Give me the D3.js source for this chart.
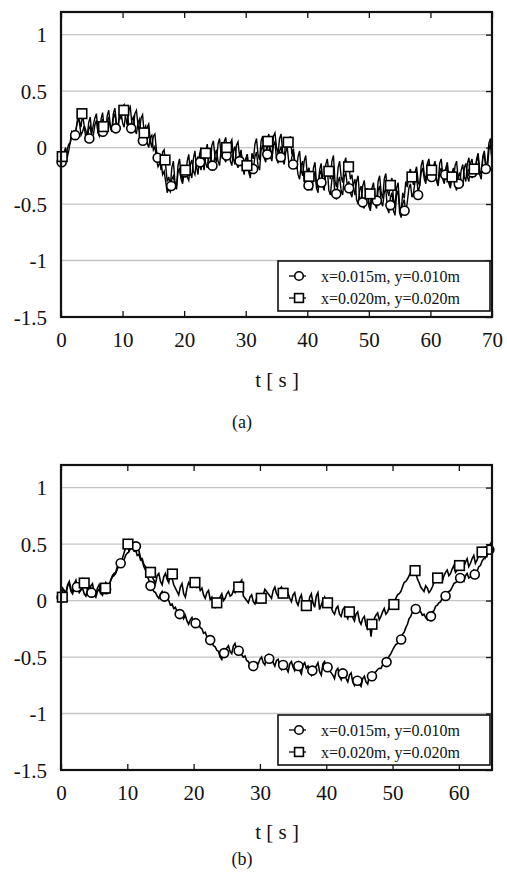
<!DOCTYPE html>
<html>
<head>
<meta charset="utf-8">
<script src="https://cdn.jsdelivr.net/npm/d3@7"></script>
<style>
  html, body { margin: 0; padding: 0; background: #fff; }
  svg { display: block; }
  text { font-family: "Liberation Serif", "Times New Roman", serif; fill: #111; }
</style>
</head>
<body>
<svg id="chart" width="507" height="873"></svg>
<script>
// ---- panel (a): sampled traces, 0.25 s step ----
const stepA = 0.25;
const aSeries1 = [
  -0.14,-0.08,-0.11,-0.14,-0.02,0.03,0.04,0.10,0.12,0.09,0.18,0.25,0.22,0.11,0.14,0.19,0.10,0.07,0.16,0.19,
  0.08,0.11,0.20,0.24,0.13,0.10,0.21,0.25,0.16,0.12,0.23,0.27,0.18,0.14,0.26,0.30,0.20,0.16,0.28,0.31,
  0.22,0.18,0.30,0.32,0.20,0.15,0.24,0.27,0.16,0.12,0.22,0.25,0.10,0.06,0.16,0.19,0.04,0.00,0.09,0.11,
  -0.02,0.01,-0.10,-0.17,-0.14,-0.12,-0.24,-0.21,-0.30,-0.40,-0.36,-0.39,-0.28,-0.25,-0.33,-0.37,-0.22,-0.18,-0.28,-0.32,
  -0.20,-0.16,-0.26,-0.29,-0.15,-0.11,-0.21,-0.24,-0.12,-0.08,-0.16,-0.20,-0.08,-0.04,-0.14,-0.18,-0.05,-0.01,-0.15,-0.19,
  -0.06,-0.02,-0.12,-0.16,-0.02,0.02,-0.09,-0.13,-0.04,0.00,-0.12,-0.16,-0.03,0.01,-0.14,-0.18,-0.08,-0.04,-0.16,-0.21,
  -0.10,-0.06,-0.20,-0.24,-0.14,-0.18,-0.08,-0.04,-0.16,-0.20,-0.02,0.02,-0.09,-0.13,0.00,0.04,-0.08,-0.12,0.02,0.05,
  -0.10,-0.14,-0.03,0.01,-0.11,-0.15,-0.04,0.00,-0.13,-0.17,-0.08,-0.04,-0.18,-0.14,-0.24,-0.28,-0.16,-0.12,-0.30,-0.34,
  -0.22,-0.18,-0.34,-0.38,-0.26,-0.22,-0.36,-0.40,-0.24,-0.20,-0.34,-0.38,-0.22,-0.18,-0.38,-0.42,-0.28,-0.24,-0.42,-0.46,
  -0.30,-0.26,-0.38,-0.42,-0.26,-0.22,-0.34,-0.30,-0.40,-0.44,-0.32,-0.28,-0.46,-0.50,-0.38,-0.34,-0.50,-0.54,-0.40,-0.36,
  -0.52,-0.56,-0.42,-0.38,-0.50,-0.54,-0.38,-0.34,-0.48,-0.52,-0.40,-0.36,-0.54,-0.58,-0.44,-0.40,-0.56,-0.60,-0.42,-0.38,
  -0.58,-0.62,-0.50,-0.46,-0.58,-0.48,-0.36,-0.32,-0.44,-0.40,-0.30,-0.26,-0.40,-0.34,-0.22,-0.18,-0.28,-0.32,-0.18,-0.14,
  -0.26,-0.30,-0.20,-0.16,-0.30,-0.34,-0.22,-0.18,-0.28,-0.32,-0.20,-0.16,-0.32,-0.36,-0.22,-0.18,-0.34,-0.38,-0.26,-0.22,
  -0.30,-0.34,-0.18,-0.14,-0.26,-0.30,-0.14,-0.10,-0.22,-0.26,-0.12,-0.08,-0.24,-0.28,-0.10,-0.06,-0.18,-0.12,0.04,0.08,
  -0.14
];
const aSeries2 = [
  -0.10,-0.15,-0.04,0.00,-0.09,-0.03,0.05,0.14,0.12,0.08,0.18,0.27,0.24,0.18,0.29,0.20,0.16,0.10,0.22,0.27,
  0.12,0.20,0.26,0.30,0.15,0.10,0.25,0.31,0.18,0.13,0.28,0.33,0.20,0.16,0.30,0.35,0.22,0.17,0.31,0.25,
  0.36,0.38,0.27,0.20,0.33,0.36,0.22,0.17,0.30,0.33,0.20,0.14,0.26,0.29,0.13,0.05,0.18,0.21,0.06,0.00,
  0.10,0.12,-0.02,-0.12,-0.08,-0.20,-0.04,-0.02,-0.16,-0.30,-0.26,-0.34,-0.18,-0.12,-0.30,-0.36,-0.16,-0.10,-0.24,-0.30,
  -0.19,-0.26,-0.12,-0.06,-0.22,-0.27,-0.10,-0.03,-0.17,-0.24,-0.06,0.00,-0.14,-0.20,-0.04,0.03,-0.12,-0.17,0.02,0.06,
  -0.08,-0.13,0.03,0.08,-0.06,-0.10,0.05,0.09,-0.02,-0.08,0.04,0.07,-0.10,-0.15,0.02,0.05,-0.08,-0.02,-0.18,-0.24,
  -0.12,-0.06,-0.22,-0.27,-0.05,-0.10,0.03,0.08,-0.06,-0.11,0.06,0.10,-0.03,-0.08,0.07,0.12,-0.02,-0.07,0.10,0.13,
  0.00,-0.05,0.08,0.12,-0.04,-0.09,0.05,-0.01,0.06,0.10,-0.06,-0.01,-0.14,-0.19,-0.08,-0.03,-0.20,-0.25,-0.12,-0.07,
  -0.24,-0.18,-0.30,-0.35,-0.18,-0.13,-0.32,-0.36,-0.20,-0.14,-0.28,-0.33,-0.15,-0.10,-0.22,-0.28,-0.12,-0.07,-0.30,-0.35,
  -0.18,-0.12,-0.26,-0.31,-0.14,-0.09,-0.20,-0.15,-0.28,-0.24,-0.36,-0.42,-0.30,-0.25,-0.44,-0.49,-0.34,-0.29,-0.42,-0.36,
  -0.48,-0.53,-0.36,-0.31,-0.44,-0.49,-0.30,-0.25,-0.40,-0.45,-0.28,-0.23,-0.38,-0.43,-0.32,-0.27,-0.46,-0.51,-0.36,-0.31,
  -0.52,-0.56,-0.40,-0.45,-0.30,-0.35,-0.24,-0.19,-0.28,-0.33,-0.22,-0.17,-0.30,-0.34,-0.16,-0.11,-0.24,-0.29,-0.14,-0.10,
  -0.22,-0.27,-0.17,-0.12,-0.28,-0.32,-0.14,-0.10,-0.24,-0.29,-0.18,-0.13,-0.30,-0.34,-0.24,-0.29,-0.16,-0.12,-0.28,-0.32,
  -0.20,-0.15,-0.26,-0.30,-0.14,-0.09,-0.22,-0.27,-0.16,-0.20,-0.10,-0.05,-0.20,-0.24,-0.08,-0.03,-0.16,-0.20,-0.02,0.04,
  -0.10
];
// panel (a) marker samples
const aMark1T = [0.1,2.3,4.6,6.8,8.9,11.4,13.3,15.7,17.9,20.1,22.6,24.6,26.9,29,31.2,33.5,35.7,37.7,40.2,42.3,44.7,46.8,49,51.3,53.5,55.8,58,60.2,62.4,64.6,66.8,69];
const aMark1V = [-0.13,0.11,0.08,0.14,0.17,0.17,0.06,-0.09,-0.34,-0.22,-0.13,-0.16,-0.07,-0.12,-0.19,-0.06,-0.085,-0.15,-0.335,-0.31,-0.41,-0.36,-0.485,-0.47,-0.51,-0.56,-0.42,-0.26,-0.24,-0.32,-0.22,-0.19];
const aMark2T = [0.2,3.4,6.9,10.2,13.5,16.9,20.2,23.5,26.9,30.2,33.6,36.9,40.3,43.5,46.7,50.2,53.5,57.0,60.2,63.5,67.1];
const aMark2V = [-0.08,0.30,0.185,0.33,0.13,-0.11,-0.20,-0.05,0.00,-0.16,0.055,0.047,-0.255,-0.21,-0.17,-0.41,-0.335,-0.26,-0.20,-0.26,-0.19];

// ---- panel (b): sampled traces, 0.25 s step ----
const stepB = 0.25;
const bSeries1 = [
  0.03,0.11,0.09,0.07,0.13,0.15,0.08,0.06,0.12,0.14,0.11,0.07,0.09,0.11,0.06,0.04,0.10,0.12,0.07,0.09,
  0.05,0.03,0.08,0.10,0.06,0.05,0.10,0.14,0.12,0.14,0.18,0.21,0.22,0.24,0.28,0.32,0.33,0.31,0.36,0.40,
  0.42,0.43,0.48,0.50,0.46,0.44,0.47,0.44,0.38,0.35,0.30,0.27,0.22,0.18,0.13,0.11,0.08,0.07,0.04,0.02,
  0.06,0.08,0.03,0.05,0.02,0.00,-0.04,-0.03,-0.07,-0.06,-0.10,-0.09,-0.12,-0.11,-0.16,-0.13,-0.18,-0.21,-0.17,-0.15,
  -0.20,-0.18,-0.22,-0.20,-0.24,-0.25,-0.29,-0.28,-0.32,-0.33,-0.36,-0.37,-0.40,-0.41,-0.44,-0.45,-0.50,-0.52,-0.46,-0.44,
  -0.42,-0.40,-0.45,-0.47,-0.40,-0.38,-0.44,-0.42,-0.46,-0.48,-0.50,-0.49,-0.53,-0.54,-0.57,-0.55,-0.58,-0.60,-0.55,-0.56,
  -0.52,-0.50,-0.55,-0.57,-0.50,-0.48,-0.52,-0.51,-0.55,-0.58,-0.53,-0.52,-0.58,-0.61,-0.57,-0.55,-0.60,-0.63,-0.56,-0.54,
  -0.59,-0.62,-0.58,-0.55,-0.62,-0.65,-0.57,-0.55,-0.60,-0.58,-0.63,-0.66,-0.62,-0.60,-0.58,-0.55,-0.63,-0.66,-0.56,-0.54,
  -0.60,-0.58,-0.62,-0.64,-0.66,-0.69,-0.62,-0.60,-0.67,-0.70,-0.64,-0.62,-0.69,-0.72,-0.66,-0.64,-0.72,-0.75,-0.70,-0.68,
  -0.74,-0.76,-0.69,-0.67,-0.72,-0.74,-0.67,-0.69,-0.66,-0.64,-0.63,-0.61,-0.60,-0.60,-0.57,-0.55,-0.54,-0.52,-0.49,-0.47,
  -0.44,-0.41,-0.39,-0.38,-0.35,-0.33,-0.30,-0.28,-0.24,-0.21,-0.16,-0.14,-0.10,-0.07,-0.07,-0.05,-0.09,-0.10,-0.13,-0.12,
  -0.15,-0.17,-0.14,-0.13,-0.10,-0.09,-0.05,-0.04,-0.02,-0.01,0.02,0.01,0.04,0.07,0.08,0.09,0.12,0.15,0.16,0.17,
  0.20,0.22,0.18,0.17,0.22,0.24,0.20,0.21,0.25,0.27,0.23,0.26,0.30,0.31,0.35,0.37,0.39,0.40,0.44,0.46,
  0.42
];
const bSeries2 = [
  0.03,0.10,0.08,0.06,0.14,0.17,0.10,0.08,0.15,0.18,0.11,0.08,0.16,0.19,0.15,0.12,0.10,0.07,0.13,0.15,
  0.07,0.05,0.11,0.14,0.08,0.05,0.12,0.16,0.14,0.13,0.18,0.22,0.24,0.25,0.30,0.34,0.35,0.37,0.42,0.47,
  0.50,0.44,0.46,0.49,0.44,0.45,0.40,0.41,0.36,0.37,0.32,0.30,0.27,0.23,0.25,0.21,0.18,0.15,0.22,0.24,
  0.17,0.14,0.21,0.24,0.19,0.16,0.23,0.20,0.14,0.11,0.08,0.05,0.12,0.15,0.06,0.03,0.11,0.16,0.14,0.12,
  0.17,0.19,0.12,0.14,0.09,0.11,0.05,0.02,0.07,0.09,0.01,0.03,-0.03,-0.06,-0.02,0.00,0.03,0.06,0.00,0.02,
  0.06,0.08,0.04,0.05,0.09,0.07,0.11,0.14,0.16,0.18,0.04,0.02,0.00,-0.02,0.03,0.05,-0.01,-0.03,0.02,0.04,
  0.01,0.02,0.05,0.10,0.08,0.06,0.04,0.02,0.09,0.12,0.06,0.04,0.10,0.12,0.07,0.09,0.04,0.06,0.02,-0.01,
  0.05,0.07,-0.01,-0.04,0.02,0.05,-0.04,-0.01,-0.05,-0.09,0.03,0.06,-0.02,-0.06,0.04,0.07,-0.08,-0.04,0.00,0.03,
  -0.02,0.00,-0.03,-0.06,-0.10,-0.12,-0.07,-0.05,-0.12,-0.14,-0.08,-0.06,-0.13,-0.16,-0.10,-0.08,-0.15,-0.18,-0.12,-0.10,
  -0.18,-0.21,-0.16,-0.14,-0.22,-0.25,-0.17,-0.32,-0.20,-0.16,-0.13,-0.11,-0.17,-0.14,-0.10,-0.07,-0.12,-0.10,-0.06,-0.02,
  -0.04,-0.01,0.02,0.05,0.06,0.08,0.12,0.16,0.17,0.19,0.22,0.25,0.27,0.30,0.25,0.19,0.16,0.12,0.10,0.08,
  0.13,0.11,0.07,0.09,0.12,0.16,0.18,0.23,0.21,0.20,0.17,0.22,0.25,0.27,0.22,0.24,0.28,0.31,0.25,0.27,
  0.31,0.33,0.28,0.30,0.34,0.37,0.30,0.33,0.37,0.40,0.33,0.36,0.40,0.39,0.43,0.46,0.38,0.41,0.47,0.50,
  0.42
];
const bMark1T = [0.1,2.4,4.6,6.8,9.0,11.3,13.5,15.6,17.9,20.3,22.5,24.6,26.8,29,31.4,33.5,35.8,37.9,40.2,42.5,44.7,46.9,49.1,51.3,53.5,55.8,58,60.2,62.4,64.6];
const bMark1V = [0.03,0.12,0.07,0.10,0.33,0.48,0.13,0.035,-0.12,-0.20,-0.35,-0.465,-0.445,-0.58,-0.515,-0.57,-0.58,-0.62,-0.59,-0.645,-0.71,-0.67,-0.545,-0.345,-0.075,-0.14,0.04,0.20,0.23,0.45];
const bMark2T = [0.2,3.5,6.7,10.1,13.5,16.8,20.2,23.5,26.8,30.2,33.5,37,40.2,43.5,46.9,50.2,53.4,56.8,60.1,63.5];
const bMark2V = [0.03,0.155,0.11,0.50,0.25,0.235,0.16,-0.02,0.12,0.02,0.065,-0.045,-0.02,-0.10,-0.21,-0.035,0.265,0.20,0.31,0.43];

// ---- axis ticks and labels ----
const yTicks = [-1.5,-1,-0.5,0,0.5,1];
const yTickLabels = ["-1.5","-1","-0.5","0","0.5","1"];
const aXTicks = [0,10,20,30,40,50,60,70];
const bXTicks = [0,10,20,30,40,50,60];
const legendLabels = ["x=0.015m, y=0.010m", "x=0.020m, y=0.020m"];
const xTitle = "t [ s ]";

const svg = d3.select("#chart");

function drawPanel(cfg) {
  const g = svg.append("g");
  const x = d3.scaleLinear().domain([0, cfg.xMax]).range([61, 492]);
  const y = d3.scaleLinear().domain([-1.5, 1.2]).range([cfg.bottom, cfg.top]);
  const clipId = "clip-" + cfg.id;
  g.append("clipPath").attr("id", clipId)
    .append("rect").attr("x", 61).attr("y", cfg.top)
    .attr("width", 431).attr("height", cfg.bottom - cfg.top);

  // horizontal gridlines
  g.append("g").selectAll("line").data(yTicks.filter(v => v > -1.5)).join("line")
    .attr("x1", 61).attr("x2", 492)
    .attr("y1", d => y(d)).attr("y2", d => y(d))
    .attr("stroke", "#c4c4c4").attr("stroke-width", 1.3);

  // axes built with d3.axis, ticks pointing inward
  const axB = g.append("g").attr("transform", `translate(0,${cfg.bottom})`)
    .call(d3.axisBottom(x).tickValues(cfg.xTicks).tickSizeInner(-6).tickSizeOuter(0).tickPadding(15).tickFormat(d3.format("d")));
  const axT = g.append("g").attr("transform", `translate(0,${cfg.top})`)
    .call(d3.axisTop(x).tickValues(cfg.xTicks).tickSizeInner(-6).tickSizeOuter(0).tickFormat(""));
  const axL = g.append("g").attr("transform", `translate(61,0)`)
    .call(d3.axisLeft(y).tickValues(yTicks).tickSizeInner(0).tickSizeOuter(0).tickPadding(14)
      .tickFormat((d, i) => yTickLabels[i]));
  const axR = g.append("g").attr("transform", `translate(492,0)`)
    .call(d3.axisRight(y).tickValues(yTicks).tickSizeInner(-6).tickSizeOuter(0).tickFormat(""));
  [axB, axT, axL, axR].forEach(a => {
    a.attr("font-family", null);
    a.select(".domain").remove();
    a.selectAll(".tick line").attr("stroke", "#111").attr("stroke-width", 1.3);
    a.selectAll("text").style("font-family", '"Liberation Serif", serif')
      .style("font-size", "21px").attr("fill", "#111");
  });
  axB.selectAll("text").attr("dy", "0.71em");
  axL.selectAll("text").attr("dy", "0.34em");

  // traces
  const line = d3.line().x(d => x(d[0])).y(d => y(d[1]));
  const traces = g.append("g").attr("clip-path", `url(#${clipId})`);
  [cfg.s1, cfg.s2].forEach(s => {
    traces.append("path")
      .attr("d", line(s.map((v, i) => [i * cfg.step, v])))
      .attr("fill", "none").attr("stroke", "#000").attr("stroke-width", cfg.lineW)
      .attr("stroke-linejoin", "miter").attr("stroke-miterlimit", 4);
  });

  // markers
  const mk = g.append("g");
  mk.selectAll("circle").data(cfg.m1T.map((t, i) => [t, cfg.m1V[i]])).join("circle")
    .attr("cx", d => x(d[0])).attr("cy", d => y(d[1])).attr("r", 4.5)
    .attr("fill", "#fff").attr("stroke", "#000").attr("stroke-width", 1.6);
  mk.selectAll("rect").data(cfg.m2T.map((t, i) => [t, cfg.m2V[i]])).join("rect")
    .attr("x", d => x(d[0]) - 4.8).attr("y", d => y(d[1]) - 4.8)
    .attr("width", 9.6).attr("height", 9.6)
    .attr("fill", "#fff").attr("stroke", "#000").attr("stroke-width", 1.6);

  // frame
  g.append("rect").attr("x", 61).attr("y", cfg.top)
    .attr("width", 431).attr("height", cfg.bottom - cfg.top)
    .attr("fill", "none").attr("stroke", "#111").attr("stroke-width", 2.2);

  // legend
  const lg = g.append("g");
  lg.append("rect").attr("x", 278).attr("y", cfg.legTop)
    .attr("width", 212).attr("height", 50)
    .attr("fill", "#fff").attr("stroke", "#111").attr("stroke-width", 1.6);
  legendLabels.forEach((lab, i) => {
    const cy = cfg.legTop + 15 + i * 22;
    lg.append("line").attr("x1", 289).attr("x2", 306).attr("y1", cy).attr("y2", cy)
      .attr("stroke", "#000").attr("stroke-width", 1.3);
    if (i === 0) {
      lg.append("circle").attr("cx", 299).attr("cy", cy).attr("r", 4.3)
        .attr("fill", "#fff").attr("stroke", "#000").attr("stroke-width", 1.6);
    } else {
      lg.append("rect").attr("x", 294.6).attr("y", cy - 4.4).attr("width", 8.8).attr("height", 8.8)
        .attr("fill", "#fff").attr("stroke", "#000").attr("stroke-width", 1.6);
    }
    lg.append("text").attr("x", 321).attr("y", cy + 5.5)
      .style("font-size", "16px").text(lab);
  });

  // titles
  g.append("text").attr("x", 277).attr("y", cfg.titleY).attr("text-anchor", "middle")
    .style("font-size", "21px").text(xTitle);
  g.append("text").attr("x", 242).attr("y", cfg.capY).attr("text-anchor", "middle")
    .style("font-size", "18px").text(cfg.caption);
}

drawPanel({ id: "a", top: 12, bottom: 317, xMax: 70, xTicks: aXTicks, step: stepA, lineW: 1.4,
  s1: aSeries1, s2: aSeries2, m1T: aMark1T, m1V: aMark1V, m2T: aMark2T, m2V: aMark2V,
  legTop: 261, titleY: 387, capY: 428, caption: "(a)" });
drawPanel({ id: "b", top: 465, bottom: 770, xMax: 65, xTicks: bXTicks, step: stepB, lineW: 1.6,
  s1: bSeries1, s2: bSeries2, m1T: bMark1T, m1V: bMark1V, m2T: bMark2T, m2V: bMark2V,
  legTop: 715, titleY: 839, capY: 865, caption: "(b)" });
</script>
</body>
</html>
